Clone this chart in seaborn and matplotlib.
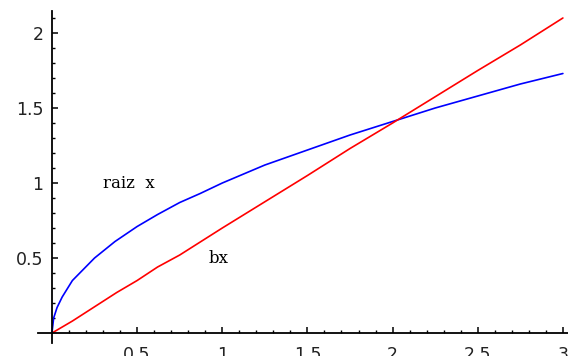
import numpy as np
import pandas as pd
import matplotlib
matplotlib.use('Agg')
import matplotlib.pyplot as plt
from matplotlib.ticker import FixedLocator
import seaborn as sns

raiz_x = [0, 0.01, 0.03, 0.06, 0.12, 0.25, 0.37, 0.5, 0.62, 0.75, 0.87, 1.0,
          1.25, 1.5, 1.75, 2.0, 2.25, 2.5, 2.75, 3.0]
raiz_y = [0, 0.1, 0.17, 0.24, 0.35, 0.5, 0.61, 0.71, 0.79, 0.87, 0.93, 1.0,
          1.12, 1.22, 1.32, 1.41, 1.5, 1.58, 1.66, 1.73]
bx_x = [0, 0.12, 0.38, 0.5, 0.62, 0.75, 1.0, 1.5, 1.75, 2.0, 2.5, 2.75, 3.0]
bx_y = [0, 0.08, 0.27, 0.35, 0.44, 0.52, 0.7, 1.05, 1.23, 1.4, 1.75, 1.92, 2.1]

x_ticks = [0.5, 1, 1.5, 2, 2.5, 3]
y_ticks = [0.5, 1, 1.5, 2]
x_labels = ['0.5', '1', '1.5', '2', '2.5', '3']
y_labels = ['0.5', '1', '1.5', '2']
x_minor = [i / 10 for i in range(1, 31)]
y_minor = [i / 10 for i in range(1, 22)]

sns.set_style('white')
plt.rcParams['font.family'] = ['DejaVu Sans']

df_raiz = pd.DataFrame({'x': raiz_x, 'y': raiz_y})
df_bx = pd.DataFrame({'x': bx_x, 'y': bx_y})

fig = plt.figure(figsize=(5.68, 3.56), dpi=100)
ax = fig.add_axes([0, 0, 1, 1])

sns.lineplot(data=df_raiz, x='x', y='y', sort=False, color='#0000ff', lw=1.2, ax=ax)
sns.lineplot(data=df_bx, x='x', y='y', sort=False, color='#ff0000', lw=1.2, ax=ax)

ax.set_xlim(-0.305, 3.03)
ax.set_ylim(-0.153, 2.22)

for s in ['top', 'right']:
    ax.spines[s].set_visible(False)
ax.spines['left'].set_position(('data', 0))
ax.spines['bottom'].set_position(('data', 0))
ax.spines['left'].set_bounds(-0.065, 2.15)
ax.spines['bottom'].set_bounds(-0.08, 3.03)
for s in ['left', 'bottom']:
    ax.spines[s].set_linewidth(1.3)
    ax.spines[s].set_color('black')

ax.set_xticks(x_ticks, x_labels)
ax.set_yticks(y_ticks, y_labels)
ax.xaxis.set_minor_locator(FixedLocator(x_minor))
ax.yaxis.set_minor_locator(FixedLocator(y_minor))
ax.tick_params(which='major', direction='in', length=4, width=1.1, color='black',
               labelsize=12.5, labelcolor='#222222',
               bottom=True, left=True)
ax.tick_params(axis='x', which='major', pad=9)
ax.tick_params(axis='y', which='major', pad=6)
ax.tick_params(which='minor', direction='in', length=2.2, width=1, color='black',
               bottom=True, left=True)

ax.set_xlabel('')
ax.set_ylabel('')

ax.text(0.3, 1.0, 'raiz  x', family='DejaVu Serif', fontsize=12,
        va='center', ha='left', color='black')
ax.text(0.92, 0.5, 'bx', family='DejaVu Serif', fontsize=12,
        va='center', ha='left', color='black')

fig.savefig('out.png', dpi=100)
